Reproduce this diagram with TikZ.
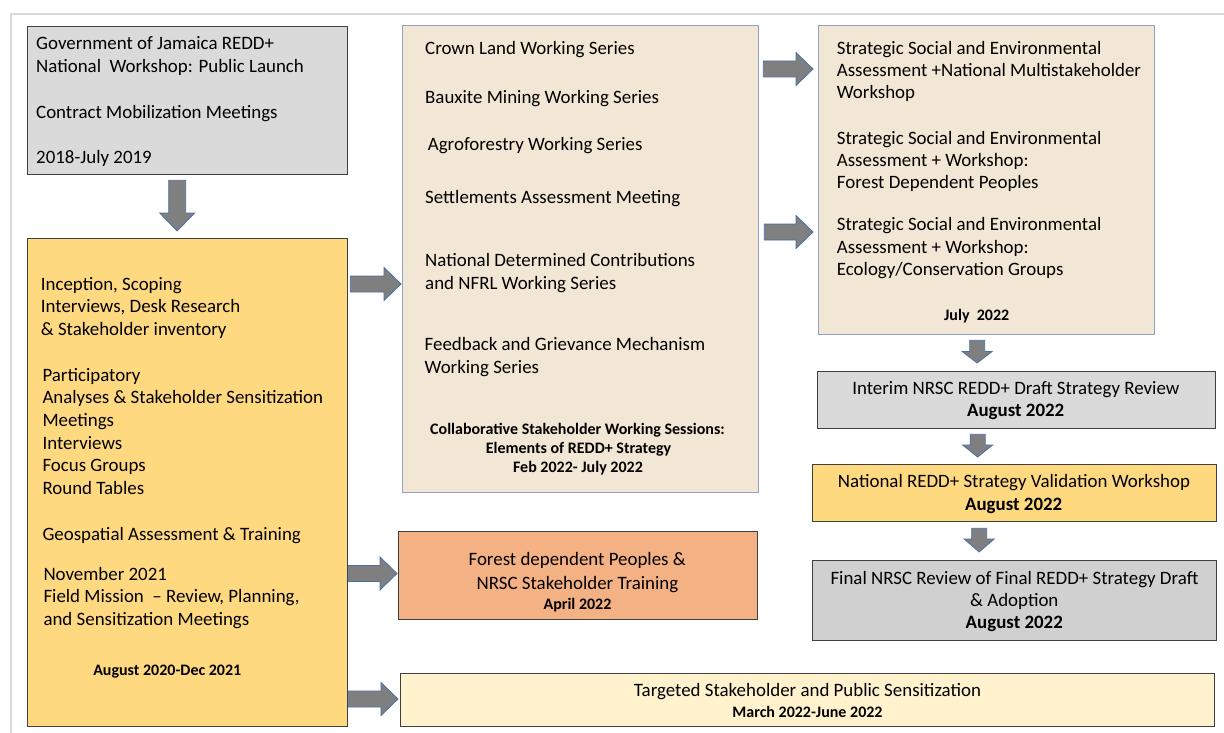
\documentclass[tikz,border=0pt]{standalone}
\usepackage{fontspec}
\setmainfont{Carlito}
\usetikzlibrary{calc}
\definecolor{grayA}{HTML}{DADADA}
\definecolor{grayG}{HTML}{D0D0D0}
\definecolor{gold}{HTML}{FFD980}
\definecolor{cream}{HTML}{F1E7D4}
\definecolor{creamline}{HTML}{8FA3C9}
\definecolor{salmon}{HTML}{F4B183}
\definecolor{lightyel}{HTML}{FFF2CC}
\definecolor{boxline}{HTML}{404040}
\definecolor{arrfill}{HTML}{7F7F7F}
\definecolor{arrline}{HTML}{4A6FA5}
\definecolor{framegray}{HTML}{D9D9D9}
\tikzset{
  box/.style={draw=boxline, line width=1.3pt, anchor=north west, inner sep=0pt},
  bluebox/.style={box, draw=creamline, fill=cream},
  txt/.style={anchor=base west, inner sep=0pt, font=\fontsize{18.9}{22.7}\selectfont},
  ctxt/.style={anchor=base, inner sep=0pt, font=\fontsize{18.9}{22.7}\selectfont},
  btxt/.style={anchor=base, inner sep=0pt, font=\fontsize{18.9}{22.7}\selectfont\bfseries},
  sbtxt/.style={anchor=base, inner sep=0pt, font=\fontsize{16}{19}\selectfont\bfseries},
  blockarr/.style={fill=arrfill, draw=arrline, line width=0.8pt, line join=miter},
}
% horizontal block arrow: #1 start, #2 tip (y taken from start)
\newcommand\BlockArrowH[2]{%
  \draw[blockarr] let \p1=#1, \p2=#2 in
    (\x1,\y1+8pt) -- (\x2-17pt,\y1+8pt) -- (\x2-17pt,\y1+16.5pt) -- (\x2,\y1)
    -- (\x2-17pt,\y1-16.5pt) -- (\x2-17pt,\y1-8pt) -- (\x1,\y1-8pt) -- cycle;}
% vertical block arrow: #1 start, #2 tip (x taken from start), #3 shaft half, #4 head half, #5 head length
\newcommand\BlockArrowV[5]{%
  \draw[blockarr] let \p1=#1, \p2=#2 in
    (\x1-#3pt,\y1) -- (\x1+#3pt,\y1) -- (\x1+#3pt,\y2+#5pt) -- (\x1+#4pt,\y2+#5pt)
    -- (\x1,\y2) -- (\x1-#4pt,\y2+#5pt) -- (\x1-#3pt,\y2+#5pt) -- cycle;}
\begin{document}
\begin{tikzpicture}[x=1pt,y=-1pt]
\useasboundingbox (0,0) rectangle (1224,733);
\fill[white] (0,0) rectangle (1224,733);
\draw[framegray, line width=2pt] (11,733) -- (11,14) -- (1224,14);

% boxes
\node[box, fill=grayA, minimum width=320pt, minimum height=148pt] (A) at (27,26) {};
\node[box, fill=gold, minimum width=320pt, minimum height=488pt] (B) at (27,238) {};
\node[bluebox, minimum width=356pt, minimum height=467pt] (C) at (402,25) {};
\node[bluebox, minimum width=336pt, minimum height=309pt] (D) at (818,25) {};
\node[box, fill=grayA, minimum width=398pt, minimum height=57pt] (E) at (817,371) {};
\node[box, fill=gold, minimum width=404pt, minimum height=57pt] (F) at (812,464) {};
\node[box, fill=grayG, minimum width=404pt, minimum height=80pt] (G) at (812,560) {};
\node[box, fill=salmon, minimum width=359pt, minimum height=88pt] (H) at (398,531) {};
\node[box, fill=lightyel, minimum width=814pt, minimum height=53pt] (I) at (400,673) {};

% texts A
\node[txt] (A1) at (36,50) {Government of Jamaica REDD+};
\node[txt] (A2) at (36,72.7) {National\ \ Workshop: Public Launch};
\node[txt] (A3) at (36,118.5) {Contract Mobilization Meetings};
\node[txt] (A4) at (36,163.5) {2018-July 2019};

% texts B
\node[txt] (B1) at (40.7,290) {Inception, Scoping};
\node[txt] (B2) at (40.7,312.3) {Interviews, Desk Research};
\node[txt] (B3) at (40.7,335) {\& Stakeholder inventory};
\node[txt] (B4) at (42.3,381) {Participatory};
\node[txt] (B5) at (42.3,403.3) {Analyses \& Stakeholder Sensitization};
\node[txt] (B6) at (42.3,426) {Meetings};
\node[txt] (B7) at (42.3,449) {Interviews};
\node[txt] (B8) at (42.3,471.3) {Focus Groups};
\node[txt] (B9) at (42.3,494) {Round Tables};
\node[txt] (B10) at (42.3,540) {Geospatial Assessment \& Training};
\node[txt] (B11) at (43.3,580) {November 2021};
\node[txt] (B12) at (43.3,602.3) {Field Mission\ \ – Review, Planning,};
\node[txt] (B13) at (43.3,625) {and Sensitization Meetings};
\node[sbtxt] (B14) at (167.3,675.7) {August 2020-Dec 2021};

% texts C
\node[txt] (C1) at (425,55) {Crown Land Working Series};
\node[txt] (C2) at (425,104) {Bauxite Mining Working Series};
\node[txt] (C3) at (427.7,150.7) {Agroforestry Working Series};
\node[txt] (C4) at (425,204) {Settlements Assessment Meeting};
\node[txt] (C5) at (425,266.7) {National Determined Contributions};
\node[txt] (C6) at (425,289.3) {and NFRL Working Series};
\node[txt] (C7) at (424.5,350.7) {Feedback and Grievance Mechanism};
\node[txt] (C8) at (424.5,373.3) {Working Series};
\node[sbtxt] (C9) at (577.5,434.3) {Collaborative Stakeholder Working Sessions:};
\node[sbtxt] (C10) at (578.5,453.3) {Elements of REDD+ Strategy};
\node[sbtxt] (C11) at (578,472.3) {Feb 2022- July 2022};

% texts D
\node[txt] (D1) at (836.7,54.3) {Strategic Social and Environmental};
\node[txt] (D2) at (836.7,76.7) {Assessment +National Multistakeholder};
\node[txt] (D3) at (836.7,99) {Workshop};
\node[txt] (D4) at (836.7,144.3) {Strategic Social and Environmental};
\node[txt] (D5) at (836.7,166.7) {Assessment + Workshop:};
\node[txt] (D6) at (836.7,189) {Forest Dependent Peoples};
\node[txt] (D7) at (836.7,230.7) {Strategic Social and Environmental};
\node[txt] (D8) at (836.7,253.3) {Assessment + Workshop:};
\node[txt] (D9) at (836.7,275.7) {Ecology/Conservation Groups};
\node[sbtxt] (D10) at (976.7,320) {July\ \ 2022};

% texts E F G
\node[ctxt] (E1) at (1015.8,394) {Interim NRSC REDD+ Draft Strategy Review};
\node[btxt] (E2) at (1015.7,416.7) {August 2022};
\node[ctxt] (F1) at (1014,487.3) {National REDD+ Strategy Validation Workshop};
\node[btxt] (F2) at (1013.7,510) {August 2022};
\node[ctxt] (G1) at (1014.5,584) {Final NRSC Review of Final REDD+ Strategy Draft};
\node[ctxt] (G2) at (1014.3,606) {\& Adoption};
\node[btxt] (G3) at (1014.3,628.3) {August 2022};

% texts H I
\node[ctxt] (H1) at (577.2,565.7) {Forest dependent Peoples \&};
\node[ctxt] (H2) at (577.5,589.3) {NRSC Stakeholder Training};
\node[sbtxt] (H3) at (577.5,609) {April 2022};
\node[ctxt] (I1) at (807.5,696.5) {Targeted Stakeholder and Public Sensitization};
\node[sbtxt] (I2) at (807.5,717) {March 2022-June 2022};

% arrow rows
\coordinate (r1) at (0,284);
\coordinate (r2) at (0,69);
\coordinate (r3) at (0,232);
\coordinate (r4) at (0,573.5);
\coordinate (r5) at (0,699);

% block arrows
\BlockArrowV{($(A.south)+(-10.5,5)$)}{($(B.north)+(0,-7)$)}{8.5}{17.5}{18}
\BlockArrowH{($(B.east |- r1)+(2,0)$)}{($(C.west |- r1)+(-1,0)$)}
\BlockArrowH{($(C.east |- r2)+(4,0)$)}{($(D.west |- r2)+(-5,0)$)}
\BlockArrowH{($(C.east |- r3)+(5,0)$)}{($(D.west |- r3)+(-5,0)$)}
\BlockArrowH{($(B.east |- r4)+(0,0)$)}{($(H.west |- r4)+(-1,0)$)}
\BlockArrowH{($(B.east |- r5)+(0,0)$)}{($(I.west |- r5)+(-2,0)$)}
\BlockArrowV{($(D.south)+(-9.5,5)$)}{($(E.north)+(0,-8)$)}{7.5}{15}{11.5}
\BlockArrowV{($(E.south)+(-39,5)$)}{($(F.north)+(0,-7)$)}{7.5}{15}{12}
\BlockArrowV{($(F.south)+(-35.5,6)$)}{($(G.north)+(0,-8)$)}{7.5}{15}{13}
\end{tikzpicture}
\end{document}
